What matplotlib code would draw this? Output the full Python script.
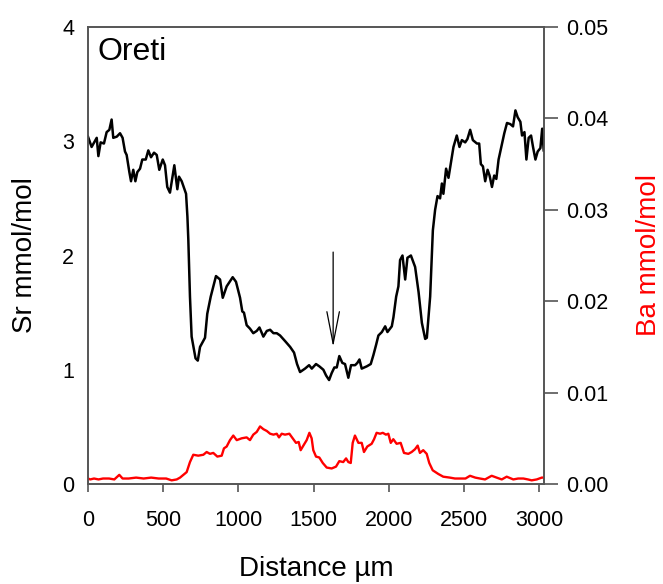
import numpy as np
import matplotlib
matplotlib.use("Agg")
import matplotlib.pyplot as plt

plt.rcParams['font.family'] = ['Liberation Sans', 'DejaVu Sans']

# Sr profile (mmol/mol) along distance (um)
sr_dist = [0, 24, 58, 69, 84, 106, 124, 142, 157, 168, 191, 213, 230, 246, 257, 275,
           286, 301, 315, 328, 346, 361, 384, 401, 419, 439, 457, 474, 497, 512, 527,
           545, 574, 594, 605, 623, 652, 661, 667, 678, 689, 705, 715, 730, 745, 778,
           793, 816, 851, 878, 896, 922, 962, 984, 1011, 1026, 1037, 1055, 1077, 1099,
           1122, 1140, 1166, 1189, 1211, 1233, 1255, 1277, 1311, 1344, 1370, 1390, 1410,
           1443, 1470, 1488, 1516, 1538, 1565, 1583, 1603, 1620, 1638, 1654, 1671, 1691,
           1709, 1731, 1749, 1776, 1791, 1805, 1820, 1854, 1880, 1898, 1916, 1931, 1954,
           1976, 1991, 2020, 2031, 2049, 2064, 2075, 2091, 2109, 2124, 2147, 2175, 2198,
           2220, 2242, 2253, 2275, 2293, 2308, 2324, 2341, 2353, 2363, 2381, 2397, 2414,
           2430, 2452, 2470, 2486, 2508, 2523, 2541, 2559, 2586, 2601, 2612, 2626, 2641,
           2657, 2670, 2686, 2701, 2715, 2730, 2753, 2768, 2786, 2808, 2826, 2842, 2857,
           2875, 2886, 2902, 2915, 2930, 2946, 2959, 2975, 2990, 3008, 3020, 3030]
sr_val = [3.04, 2.95, 3.03, 2.87, 2.99, 2.98, 3.08, 3.10, 3.19, 3.03, 3.04, 3.07, 3.03,
          2.91, 2.88, 2.73, 2.65, 2.75, 2.65, 2.73, 2.76, 2.84, 2.84, 2.92, 2.86, 2.90,
          2.88, 2.75, 2.84, 2.79, 2.60, 2.55, 2.79, 2.58, 2.69, 2.65, 2.54, 2.34, 2.14,
          1.64, 1.29, 1.17, 1.10, 1.08, 1.20, 1.28, 1.49, 1.64, 1.82, 1.79, 1.63, 1.73,
          1.81, 1.77, 1.63, 1.51, 1.50, 1.39, 1.36, 1.32, 1.34, 1.37, 1.29, 1.34, 1.35,
          1.32, 1.32, 1.30, 1.25, 1.20, 1.15, 1.05, 0.98, 1.01, 1.04, 1.01, 1.05, 1.03,
          1.00, 0.95, 0.91, 0.97, 1.02, 1.02, 1.12, 1.06, 1.05, 0.93, 1.04, 1.04, 1.06,
          1.09, 1.01, 1.03, 1.05, 1.13, 1.22, 1.30, 1.33, 1.38, 1.33, 1.38, 1.46, 1.64,
          1.73, 1.96, 2.00, 1.79, 1.98, 2.00, 1.90, 1.68, 1.41, 1.27, 1.28, 1.64, 2.22,
          2.40, 2.52, 2.50, 2.63, 2.54, 2.76, 2.68, 2.82, 2.95, 3.05, 2.95, 3.01, 2.99,
          3.02, 3.10, 3.01, 2.98, 2.98, 2.80, 2.78, 2.65, 2.75, 2.70, 2.60, 2.70, 2.67,
          2.84, 2.98, 3.07, 3.16, 3.15, 3.13, 3.27, 3.21, 3.17, 3.05, 3.08, 2.84, 3.03,
          3.05, 2.95, 2.84, 2.91, 2.94, 3.11, 2.92]

# Ba profile (mmol/mol)
ba_dist = [0, 15, 40, 70, 100, 140, 175, 208, 230, 270, 320, 370, 420, 470, 520, 556,
           590, 612, 656, 678, 700, 733, 767, 789, 811, 833, 860, 889, 904, 922, 944, 966,
           989, 1022, 1055, 1077, 1099, 1122, 1144, 1166, 1189, 1211, 1233, 1255, 1270,
           1288, 1310, 1339, 1361, 1383, 1401, 1414, 1432, 1454, 1472, 1487, 1498, 1516,
           1538, 1561, 1587, 1620, 1649, 1671, 1697, 1716, 1731, 1747, 1760, 1775, 1798,
           1820, 1835, 1857, 1886, 1902, 1919, 1942, 1960, 1981, 1997, 2013, 2030, 2052,
           2079, 2101, 2130, 2152, 2174, 2192, 2207, 2229, 2252, 2269, 2292, 2329, 2362,
           2406, 2440, 2474, 2510, 2540, 2575, 2606, 2640, 2684, 2717, 2751, 2784, 2828,
           2860, 2895, 2925, 2950, 2984, 3017, 3030]
ba_val = [0.0006, 0.0005, 0.0006, 0.0005, 0.0006, 0.0006, 0.0005, 0.0010, 0.0006, 0.0006,
          0.0007, 0.0006, 0.0007, 0.0006, 0.0006, 0.0004, 0.0005, 0.0007, 0.0013, 0.0024,
          0.0032, 0.0031, 0.0032, 0.0035, 0.0033, 0.0034, 0.0030, 0.0031, 0.0039, 0.0041,
          0.0048, 0.0053, 0.0048, 0.0050, 0.0051, 0.0048, 0.0054, 0.0057, 0.0063, 0.0060,
          0.0058, 0.0055, 0.0054, 0.0055, 0.0051, 0.0055, 0.0054, 0.0055, 0.0050, 0.0045,
          0.0046, 0.0037, 0.0042, 0.0048, 0.0056, 0.0050, 0.0037, 0.0030, 0.0029, 0.0023,
          0.0018, 0.0017, 0.0019, 0.0025, 0.0024, 0.0028, 0.0024, 0.0023, 0.0045, 0.0053,
          0.0045, 0.0045, 0.0035, 0.0041, 0.0044, 0.0049, 0.0056, 0.0055, 0.0056, 0.0054,
          0.0055, 0.0045, 0.0049, 0.0044, 0.0045, 0.0034, 0.0033, 0.0035, 0.0038, 0.0042,
          0.0034, 0.0037, 0.0033, 0.0023, 0.0015, 0.0011, 0.0008, 0.0007, 0.0006, 0.0006,
          0.0006, 0.0009, 0.0007, 0.0006, 0.0005, 0.0009, 0.0007, 0.0005, 0.0008, 0.0005,
          0.0006, 0.0006, 0.0005, 0.0004, 0.0005, 0.0007, 0.0007]

arrow_x = 1630
arrow_from = 2.03
arrow_to = 1.20

spine_col = '#555555'

fig = plt.figure(figsize=(6.63, 5.84), dpi=100)
ax = fig.add_axes([88/663, 1 - 484/584, (544 - 88)/663, (484 - 27)/584])
ax2 = ax.twinx()

ax.plot(sr_dist, sr_val, color='black', lw=1.8, zorder=3)
ax2.plot(ba_dist, ba_val, color='#ff0000', lw=1.7)

ax.set_xlim(0, 3032)
ax.set_ylim(0, 4)
ax2.set_ylim(0, 0.05)

ax.set_xticks([0, 500, 1000, 1500, 2000, 2500, 3000])
ax.set_yticks([0, 1, 2, 3, 4])
ax2.set_yticks([0, 0.01, 0.02, 0.03, 0.04, 0.05])
ax2.set_yticklabels(['0.00', '0.01', '0.02', '0.03', '0.04', '0.05'])

for a in (ax, ax2):
    for s in a.spines.values():
        s.set_color(spine_col)
        s.set_linewidth(1.2)

ax.tick_params(axis='x', direction='out', length=6, width=1.2, color=spine_col,
               labelsize=15.5, pad=13)
ax.tick_params(axis='y', length=0, labelsize=15.5, pad=10)
ax2.tick_params(axis='y', direction='out', length=10, width=1.2, color=spine_col,
                labelsize=15.5, pad=6)

ax.set_xlabel('Distance µm', fontsize=20, labelpad=18)
ax.set_ylabel('Sr mmol/mol', fontsize=20, labelpad=17)
ax2.set_ylabel('Ba mmol/mol', color='#ff0000', fontsize=20, labelpad=20)

ax.text(0.02, 0.978, 'Oreti', transform=ax.transAxes, fontsize=23,
        ha='left', va='top')

ax.annotate('', xy=(arrow_x, arrow_to), xytext=(arrow_x, arrow_from),
            arrowprops=dict(arrowstyle='->,head_length=2.3,head_width=0.45',
                            lw=0.9, color='black', shrinkA=0, shrinkB=0))

fig.savefig('out.png', dpi=100)
